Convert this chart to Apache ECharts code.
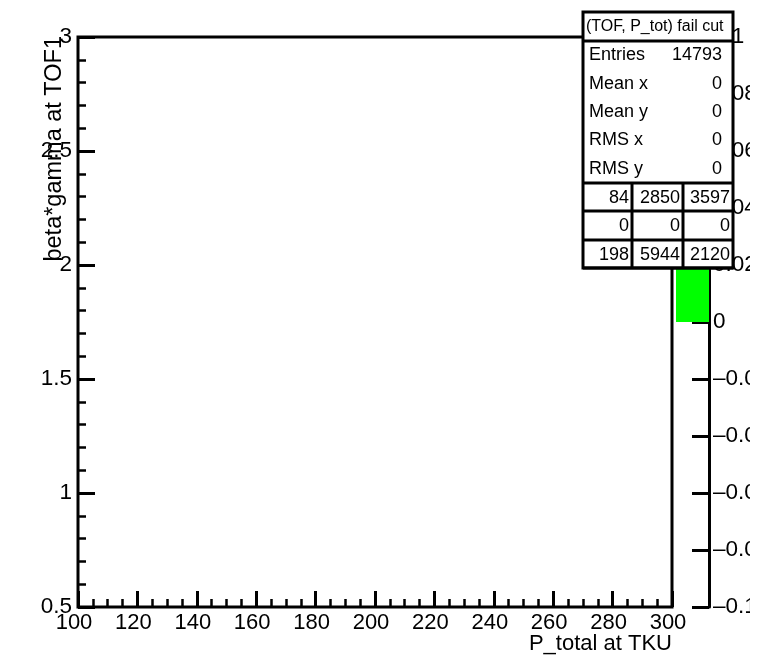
<!DOCTYPE html>
<html>
<head>
<meta charset="utf-8">
<script src="https://cdn.jsdelivr.net/npm/echarts@6/dist/echarts.min.js"></script>
<style>
  html, body { margin: 0; padding: 0; background: #fff; }
  #chart { width: 775px; height: 657px; }
</style>
</head>
<body>
<div id="chart"></div>
<script>
// Axis ranges and tick steps
const xRange = [100, 300];
const xStep = 20;
const yRange = [0.5, 3];
const yStep = 0.5;
const zRange = [-0.1, 0.1];
const zStep = 0.02;

// Histogram contents: no bins filled inside the drawn range
const histCells = [];
// Filled band of the colour palette [from, to]
const paletteBand = [0, 0.1];

// Statistics box
const statsTitle = '(TOF, P_tot) fail cut';
const statsNames = ['Entries', 'Mean x', 'Mean y', 'RMS x', 'RMS y'];
const statsValues = ['14793', '0', '0', '0', '0'];
// Under/overflow counts (3 x 3)
const overflowTable = [
  ['84', '2850', '3597'],
  ['0', '0', '0'],
  ['198', '5944', '2120']
];

const FONT = '"Liberation Sans", Arial, Helvetica, sans-serif';
const LW = 3;
const chart = echarts.init(document.getElementById('chart'), null, { renderer: 'canvas' });

// Stats box geometry
const box = { x0: 583, x1: 733, y0: 12, yTitle: 41, yTable: 183, y1: 268 };
const colEdges = [583, 632, 683, 733];
const rowEdges = [183, 211, 240, 268];

const statsGraphics = [];
// background
statsGraphics.push({
  type: 'rect', z: 100,
  shape: { x: box.x0, y: box.y0, width: box.x1 - box.x0, height: box.y1 - box.y0 },
  style: { fill: '#fff', stroke: null }
});
// title
statsGraphics.push({
  type: 'text', z: 101, x: box.x0 + 3, y: (box.y0 + box.yTitle) / 2,
  style: { text: statsTitle, font: '16px ' + FONT, fill: '#000', align: 'left', verticalAlign: 'middle' }
});
// name/value rows
const rowH = (box.yTable - box.yTitle) / statsNames.length;
statsNames.forEach((name, i) => {
  const cy = box.yTitle + rowH * (i + 0.5);
  statsGraphics.push({
    type: 'text', z: 101, x: box.x0 + 6, y: cy,
    style: { text: name, font: '18px ' + FONT, fill: '#000', align: 'left', verticalAlign: 'middle' }
  });
  statsGraphics.push({
    type: 'text', z: 101, x: box.x1 - 11, y: cy,
    style: { text: statsValues[i], font: '18px ' + FONT, fill: '#000', align: 'right', verticalAlign: 'middle' }
  });
});
// under/overflow table cells
overflowTable.forEach((row, r) => {
  const cy = (rowEdges[r] + rowEdges[r + 1]) / 2 + 1;
  row.forEach((val, c) => {
    statsGraphics.push({
      type: 'text', z: 101, x: colEdges[c + 1] - 3, y: cy,
      style: { text: val, font: '18px ' + FONT, fill: '#000', align: 'right', verticalAlign: 'middle' }
    });
  });
});
// borders
const line = (x1, y1, x2, y2) => ({
  type: 'line', z: 102,
  shape: { x1, y1, x2, y2 },
  style: { stroke: '#000', lineWidth: LW }
});
statsGraphics.push({
  type: 'rect', z: 102,
  shape: { x: box.x0, y: box.y0, width: box.x1 - box.x0, height: box.y1 - box.y0 },
  style: { fill: null, stroke: '#000', lineWidth: LW }
});
statsGraphics.push(line(box.x0, box.yTitle, box.x1, box.yTitle));
rowEdges.forEach(y => statsGraphics.push(line(box.x0, y, box.x1, y)));
colEdges.slice(1, 3).forEach(x => statsGraphics.push(line(x, box.yTable, x, box.y1)));

const option = {
  backgroundColor: '#fff',
  animation: false,
  textStyle: { fontFamily: FONT },
  grid: [
    {
      left: 78, top: 37, width: 594, height: 570,
      show: true, borderColor: '#000', borderWidth: LW, backgroundColor: 'transparent'
    },
    { left: 676, top: 37, width: 33, height: 570, show: false }
  ],
  xAxis: [
    {
      gridIndex: 0, type: 'value', min: xRange[0], max: xRange[1], interval: xStep,
      axisLine: { show: false },
      axisTick: { show: true, inside: true, length: 16, lineStyle: { color: '#000', width: LW } },
      minorTick: { show: true, splitNumber: 4, length: 8, lineStyle: { color: '#000', width: 2.5 } },
      splitLine: { show: false },
      axisLabel: { color: '#000', fontSize: 22, fontFamily: FONT, margin: 5, padding: [0, 8, 0, 0] }
    },
    { gridIndex: 1, type: 'category', data: [''], show: false }
  ],
  yAxis: [
    {
      gridIndex: 0, type: 'value', min: yRange[0], max: yRange[1], interval: yStep,
      axisLine: { show: false },
      axisTick: { show: true, inside: true, length: 17, lineStyle: { color: '#000', width: LW } },
      minorTick: { show: true, splitNumber: 5, length: 8, lineStyle: { color: '#000', width: 2.5 } },
      splitLine: { show: false },
      axisLabel: { color: '#000', fontSize: 22.5, fontFamily: FONT, margin: 6 }
    },
    {
      gridIndex: 1, type: 'value', position: 'right',
      min: zRange[0], max: zRange[1], interval: zStep,
      axisLine: { show: true, lineStyle: { color: '#000', width: LW } },
      axisTick: { show: true, inside: true, length: 17, lineStyle: { color: '#000', width: LW } },
      splitLine: { show: false },
      axisLabel: {
        color: '#000', fontSize: 22.5, fontFamily: FONT, margin: 4,
        formatter: v => {
          const a = Math.abs(+v.toFixed(2));
          return (v < -1e-9 ? '\u2013' : '') + a;
        }
      }
    }
  ],
  series: [
    {
      type: 'scatter', xAxisIndex: 0, yAxisIndex: 0,
      data: histCells, symbolSize: 0
    },
    {
      type: 'bar', xAxisIndex: 1, yAxisIndex: 1,
      data: [[0, paletteBand[1]]],
      barWidth: '100%',
      itemStyle: { color: '#00ff00' },
      silent: true
    }
  ],
  graphic: [
    // axis titles
    {
      type: 'text', z: 50, x: 672, y: 644,
      style: { text: 'P_total at TKU', font: '22px ' + FONT, fill: '#000', align: 'right', verticalAlign: 'middle' }
    },
    {
      type: 'text', z: 50, x: 55, y: 36, rotation: Math.PI / 2,
      style: { text: 'beta*gamma at TOF1', font: '23.5px ' + FONT, fill: '#000', align: 'right', verticalAlign: 'middle' }
    },
    // canvas edge: anything beyond the pad is cut off
    {
      type: 'rect', z: 200,
      shape: { x: 750, y: 0, width: 25, height: 657 },
      style: { fill: '#fff' }
    }
  ].concat(statsGraphics)
};

chart.setOption(option);
</script>
</body>
</html>
